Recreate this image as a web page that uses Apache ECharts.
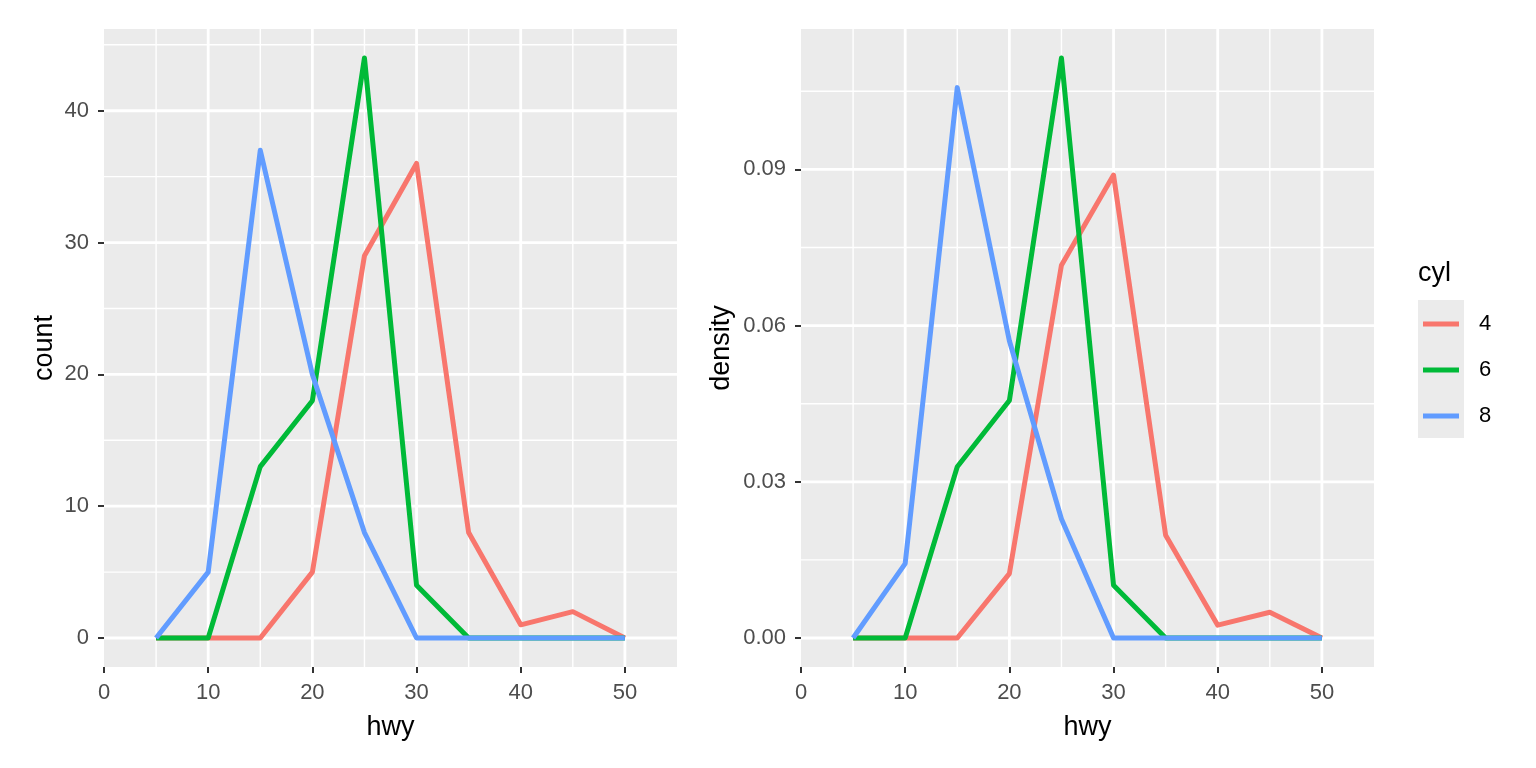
<!DOCTYPE html>
<html><head><meta charset="utf-8">
<script src="https://cdn.jsdelivr.net/npm/echarts@6/dist/echarts.min.js"></script>
<style>html,body{margin:0;padding:0;background:#fff}#c{width:1536px;height:768px}</style>
</head><body><div id="c"></div>
<script>
// ---- data ----
const hwyBins = [5, 10, 15, 20, 25, 30, 35, 40, 45, 50];
const cylLevels = ['4', '6', '8'];
const count4 = [0, 0, 0, 5, 29, 36, 8, 1, 2, 0];
const count6 = [0, 0, 13, 18, 44, 4, 0, 0, 0, 0];
const count8 = [0, 5, 37, 20, 8, 0, 0, 0, 0, 0];
const density4 = [0, 0, 0, 0.01235, 0.0716, 0.0889, 0.01975, 0.00247, 0.00494, 0];
const density6 = [0, 0, 0.0329, 0.0456, 0.1114, 0.01013, 0, 0, 0, 0];
const density8 = [0, 0.01429, 0.1057, 0.0571, 0.02286, 0, 0, 0, 0, 0];
const xTicks = [0, 10, 20, 30, 40, 50];
const xMajorGrid = [10, 20, 30, 40, 50];
const xMinorGrid = [5, 15, 25, 35, 45];
const countTicks = [0, 10, 20, 30, 40];
const countMinorGrid = [5, 15, 25, 35, 45];
const densityTicks = [0, 0.03, 0.06, 0.09];
const densityMinorGrid = [0.015, 0.045, 0.075, 0.105];
const axisTitles = { x: 'hwy', yLeft: 'count', yRight: 'density', legend: 'cyl' };

// ---- style ----
const colors = ['#F8766D', '#00BA38', '#619CFF'];
const FONT = '"Liberation Sans", Arial, sans-serif';
const TICK_COLOR = '#4D4D4D';

function pairs(ys) { return hwyBins.map((x, i) => [x, ys[i]]); }

function gridSeries(idx, yMajor, yMinor) {
  const data = [];
  xMajorGrid.forEach(v => data.push([v, 0, 1]));
  xMinorGrid.forEach(v => data.push([v, 0, 0]));
  yMajor.forEach(v => data.push([v, 1, 1]));
  yMinor.forEach(v => data.push([v, 1, 0]));
  return {
    type: 'custom', xAxisIndex: idx, yAxisIndex: idx, z: 1, silent: true,
    data: data,
    renderItem: function (params, api) {
      const cs = params.coordSys;
      const v = api.value(0), o = api.value(1), major = api.value(2);
      const w = major ? 2.8 : 1.4;
      if (o === 0) {
        const x = api.coord([v, 0])[0];
        return { type: 'line', shape: { x1: x, y1: cs.y, x2: x, y2: cs.y + cs.height }, style: { stroke: '#FFFFFF', lineWidth: w } };
      }
      const y = api.coord([0, v])[1];
      return { type: 'line', shape: { x1: cs.x, y1: y, x2: cs.x + cs.width, y2: y }, style: { stroke: '#FFFFFF', lineWidth: w } };
    }
  };
}

function lineSeries(idx, name, ys, color) {
  return {
    type: 'line', name: name, xAxisIndex: idx, yAxisIndex: idx, z: 2,
    data: pairs(ys), symbol: 'none', silent: true,
    lineStyle: { color: color, width: 5, join: 'round' }, itemStyle: { color: color }
  };
}

function xAxisDef(idx) {
  return {
    type: 'value', gridIndex: idx, min: 0, max: 55,
    splitLine: { show: false }, axisLine: { show: false, onZero: false },
    axisTick: { show: true, length: 6, customValues: xTicks, lineStyle: { color: '#333333', width: 2 } },
    axisLabel: { customValues: xTicks, fontSize: 22, color: TICK_COLOR, fontFamily: FONT, margin: 15 },
    name: axisTitles.x, nameLocation: 'middle', nameGap: 47,
    nameTextStyle: { fontSize: 27, color: '#000', fontFamily: FONT }
  };
}

function yAxisDef(idx, min, max, ticks, name, gap, fmt) {
  return {
    type: 'value', gridIndex: idx, min: min, max: max,
    splitLine: { show: false }, axisLine: { show: false, onZero: false },
    axisTick: { show: true, length: 6, customValues: ticks, lineStyle: { color: '#333333', width: 2 } },
    axisLabel: { customValues: ticks, fontSize: 22, color: TICK_COLOR, fontFamily: FONT, margin: 15, formatter: fmt },
    name: name, nameLocation: 'middle', nameGap: gap,
    nameTextStyle: { fontSize: 27, color: '#000', fontFamily: FONT }
  };
}

const chart = echarts.init(document.getElementById('c'), null, { renderer: 'canvas' });
chart.setOption({
  animation: false,
  backgroundColor: '#FFFFFF',
  textStyle: { fontFamily: FONT },
  grid: [
    { left: 104, top: 29, width: 573, height: 638, show: true, backgroundColor: '#EBEBEB', borderWidth: 0 },
    { left: 801, top: 29, width: 573, height: 638, show: true, backgroundColor: '#EBEBEB', borderWidth: 0 }
  ],
  xAxis: [xAxisDef(0), xAxisDef(1)],
  yAxis: [
    yAxisDef(0, -2.2, 46.2, countTicks, axisTitles.yLeft, 46, v => String(v)),
    yAxisDef(1, -0.00557, 0.11696, densityTicks, axisTitles.yRight, 66, v => v.toFixed(2))
  ],
  legend: {
    orient: 'vertical', left: 1418, top: 308,
    data: cylLevels.map(n => ({ name: n, icon: 'rect' })),
    itemWidth: 36, itemHeight: 5, itemGap: 24,
    selectedMode: false,
    textStyle: { fontSize: 22, color: '#000', fontFamily: FONT, lineHeight: 22, padding: [0, 0, 0, 15] }
  },
  graphic: [
    { type: 'rect', left: 1418, top: 300, z: -1, shape: { width: 46, height: 138 }, style: { fill: '#EBEBEB' } },
    { type: 'text', x: 1418, y: 274, style: { text: axisTitles.legend, fontSize: 27, fill: '#000', fontFamily: FONT, textVerticalAlign: 'middle', verticalAlign: 'middle' } }
  ],
  series: [
    gridSeries(0, countTicks, countMinorGrid),
    gridSeries(1, densityTicks, densityMinorGrid),
    lineSeries(0, cylLevels[0], count4, colors[0]),
    lineSeries(0, cylLevels[1], count6, colors[1]),
    lineSeries(0, cylLevels[2], count8, colors[2]),
    lineSeries(1, cylLevels[0], density4, colors[0]),
    lineSeries(1, cylLevels[1], density6, colors[1]),
    lineSeries(1, cylLevels[2], density8, colors[2])
  ]
});
</script>
</body></html>
